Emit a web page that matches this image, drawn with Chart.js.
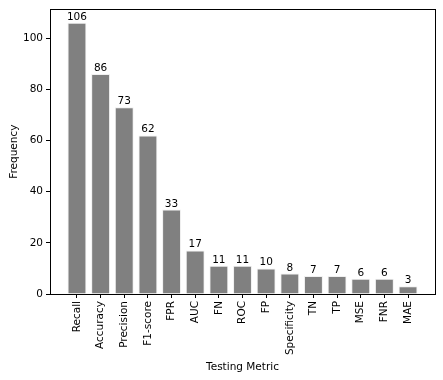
<!DOCTYPE html>
<html>
<head>
<meta charset="utf-8">
<script src="https://cdn.jsdelivr.net/npm/chart.js@4"></script>
<style>
html,body{margin:0;padding:0;background:#fff;}
#wrap{width:443px;height:380px;}
</style>
</head>
<body>
<div id="wrap"><canvas id="myChart" width="443" height="380"></canvas></div>
<script>
var metrics = ["Recall","Accuracy","Precision","F1-score","FPR","AUC","FN","ROC","FP","Specificity","TN","TP","MSE","FNR","MAE"];
var counts = [106,86,73,62,33,17,11,11,10,8,7,7,6,6,3];
var yTicks = [0,20,40,60,80,100];

var font = {family:"'DejaVu Sans', sans-serif", size:10.5};
var pts = [];
for(var i=0;i<metrics.length;i++){
	pts.push({x:i, y:counts[i]});
}
var n = metrics.length;
var pad = 0.05*((n-1)+0.8);

// values over bars + the box round the plot
var extras = {
	id:'extras',
	afterDatasetsDraw: function(chart){
		var ctx = chart.ctx;
		var meta = chart.getDatasetMeta(0);
		ctx.save();
		ctx.font = "10.5px 'DejaVu Sans', sans-serif";
		ctx.fillStyle = '#000';
		ctx.textAlign = 'center';
		ctx.textBaseline = 'bottom';
		meta.data.forEach(function(bar, k){
			ctx.fillText(String(counts[k]), bar.x, bar.y - 0.5);
		});
		var a = chart.chartArea;
		ctx.strokeStyle = '#000';
		ctx.lineWidth = 1;
		ctx.strokeRect(Math.round(a.left)+0.5, Math.round(a.top)+0.5, Math.round(a.right-a.left), Math.round(a.bottom-a.top));
		ctx.restore();
	}
};

new Chart(document.getElementById('myChart'), {
	type:'bar',
	data:{
		datasets:[{
			data:pts,
			backgroundColor:'#808080',
			borderColor:'#f0f0f0',
			borderWidth:1,
			barPercentage:0.8,
			categoryPercentage:1
		}]
	},
	options:{
		responsive:false,
		animation:false,
		layout:{padding:{top:8,right:8,left:0,bottom:0}},
		plugins:{legend:{display:false},tooltip:{enabled:false}},
		scales:{
			x:{
				type:'linear',
				min:-0.4-pad,
				max:(n-1)+0.4+pad,
				offset:false,
				afterBuildTicks:function(axis){
					axis.ticks = metrics.map(function(m,k){return {value:k};});
				},
				afterFit:function(axis){ axis.height = 86; },
				ticks:{
					autoSkip:false,
					maxRotation:90,
					minRotation:90,
					color:'#000',
					font:font,
					padding:3,
					callback:function(v){ return metrics[v]; }
				},
				grid:{drawOnChartArea:false, drawTicks:true, tickLength:4, color:'#000', offset:false},
				border:{display:true, color:'#000'},
				title:{display:true, text:'Testing Metric', color:'#000', font:font, padding:{top:2,bottom:6}}
			},
			y:{
				min:0,
				max:106*1.05,
				afterBuildTicks:function(axis){
					axis.ticks = yTicks.map(function(v){return {value:v};});
				},
				afterFit:function(axis){ axis.width = 50; },
				ticks:{color:'#000', font:font, padding:3},
				grid:{drawOnChartArea:false, drawTicks:true, tickLength:4, color:'#000'},
				border:{display:true, color:'#000'},
				title:{display:true, text:'Frequency', color:'#000', font:font, padding:{top:8,bottom:4}}
			}
		}
	},
	plugins:[extras]
});
</script>
</body>
</html>
